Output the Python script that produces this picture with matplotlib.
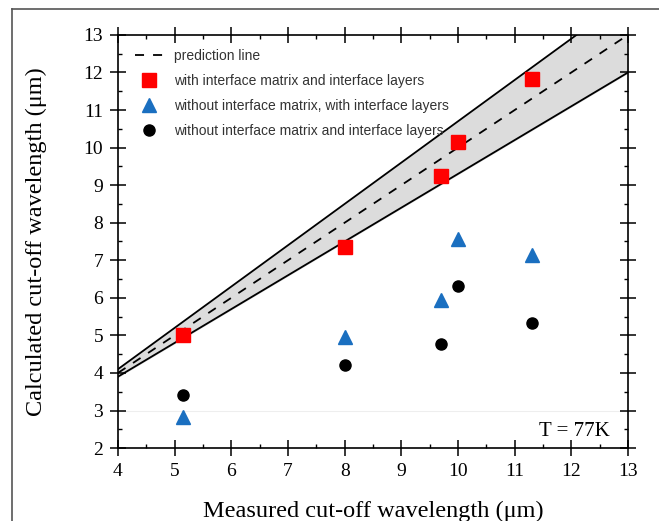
import numpy as np
import matplotlib
matplotlib.use('Agg')
import matplotlib.pyplot as plt
from matplotlib.lines import Line2D
from matplotlib.ticker import MultipleLocator

# Datos
medido = [5.15, 8.0, 9.7, 10.0, 11.3]
con_matriz = [5.0, 7.35, 9.25, 10.15, 11.82]
sin_matriz_con_capas = [2.82, 4.95, 5.95, 7.57, 7.15]
sin_matriz_sin_capas = [3.42, 4.2, 4.77, 6.32, 5.33]

# Limites de la banda (y = x +/- 0.1 (x - 3))
x_linea = np.array([4.0, 13.0])
prediccion = x_linea
banda_sup = 1.1 * x_linea - 0.3
banda_inf = 0.9 * x_linea + 0.3

plt.rcParams['font.family'] = ['Liberation Serif', 'DejaVu Serif']

fig = plt.figure(figsize=(6.59, 5.21), dpi=100)
ax = fig.add_axes([0.179, 0.140, 0.774, 0.793])

ax.fill_between(x_linea, banda_inf, banda_sup, color='#dcdcdc', zorder=1)
ax.plot(x_linea, banda_sup, color='black', lw=1.3, zorder=2)
ax.plot(x_linea, banda_inf, color='black', lw=1.3, zorder=2)
ax.plot(x_linea, prediccion, color='black', lw=1.3, linestyle=(0, (5, 5)), zorder=2,
        label='prediction line')

# linea tenue que aparece en el original
ax.axhline(3, color='#eeeeee', lw=0.8, zorder=0)

ax.plot(medido, con_matriz, 's', color='#ff0000', ms=10, linestyle='none', zorder=3,
        label='with interface matrix and interface layers')
ax.plot(medido, sin_matriz_con_capas, '^', color='#1a6fc0', ms=10, linestyle='none', zorder=3,
        label='without interface matrix, with interface layers')
ax.plot(medido, sin_matriz_sin_capas, 'o', color='black', ms=8, linestyle='none', zorder=3,
        label='without interface matrix and interface layers')

ax.set_xlim(4, 13)
ax.set_ylim(2, 13)
ax.xaxis.set_major_locator(MultipleLocator(1))
ax.yaxis.set_major_locator(MultipleLocator(1))
ax.xaxis.set_minor_locator(MultipleLocator(0.5))
ax.yaxis.set_minor_locator(MultipleLocator(0.5))
ax.tick_params(which='major', direction='inout', length=11.5, width=1.1, top=True, right=True,
               labelsize=14, pad=5)
ax.tick_params(which='minor', direction='in', length=3, width=1, top=True, right=True)
for s in ax.spines.values():
    s.set_linewidth(1.2)

ax.set_xlabel('Measured cut-off wavelength (μm)', fontsize=17.5, labelpad=15)
ax.set_ylabel('Calculated cut-off wavelength (μm)', fontsize=17.5, labelpad=26)

ax.text(12.68, 2.45, 'T = 77K', fontsize=15, ha='right', va='center')

leg = ax.legend(loc='upper left', bbox_to_anchor=(0.033, 0.966), frameon=False,
                prop={'family': 'Liberation Sans', 'size': 10},
                handlelength=2.0, handletextpad=0.8, labelspacing=0.8,
                borderpad=0, borderaxespad=0)
for t in leg.get_texts():
    t.set_color('#333333')

# marco exterior de la figura
fig.add_artist(Line2D([12 / 659, 12 / 659], [0, 1 - 9 / 521], color='#555555', lw=1.2))
fig.add_artist(Line2D([12 / 659, 1], [1 - 9 / 521, 1 - 9 / 521], color='#555555', lw=1.2))

fig.savefig('out.png', dpi=100)
